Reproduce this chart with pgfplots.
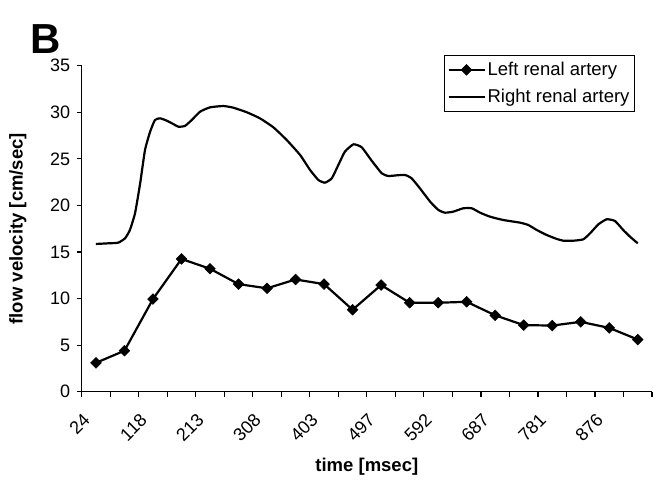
\documentclass[border=0pt]{standalone}
\usepackage{fontspec}
\setmainfont{Liberation Sans}
\usepackage{pgfplots}
\pgfplotsset{compat=1.18}
\usepackage{pgfplotstable}

% left renal artery, one value per sample (index 0..19)
\pgfplotstableread{
x y
0 3.1
1 4.4
2 9.95
3 14.25
4 13.2
5 11.55
6 11.1
7 12.05
8 11.55
9 8.8
10 11.45
11 9.55
12 9.55
13 9.65
14 8.2
15 7.15
16 7.1
17 7.5
18 6.85
19 5.6
}\lefttab

% right renal artery, traced curve
\pgfplotstableread{
x y
0.00 15.86
0.43 15.93
0.78 16.00
1.02 16.47
1.19 17.36
1.37 19.15
1.55 22.37
1.72 25.95
1.90 27.92
2.07 29.17
2.25 29.35
2.48 29.10
2.71 28.74
2.89 28.45
3.12 28.53
3.36 29.17
3.65 30.06
4.00 30.53
4.47 30.67
4.82 30.49
5.29 30.00
5.75 29.35
6.22 28.39
6.69 27.02
7.16 25.41
7.51 23.80
7.80 22.73
8.03 22.44
8.27 22.91
8.50 24.34
8.73 25.77
9.03 26.56
9.32 26.24
9.65 24.88
10.02 23.45
10.25 23.16
10.55 23.23
10.84 23.27
11.07 22.91
11.36 21.84
11.72 20.40
12.01 19.51
12.24 19.22
12.53 19.33
12.88 19.69
13.18 19.69
13.47 19.22
13.82 18.79
14.29 18.43
14.87 18.15
15.16 17.90
15.46 17.36
15.81 16.82
16.16 16.40
16.39 16.21
16.74 16.21
17.09 16.36
17.33 17.01
17.62 17.97
17.91 18.51
18.20 18.33
18.49 17.36
18.73 16.64
19.00 15.93
}\righttab

\begin{document}
\begin{tikzpicture}
\useasboundingbox (0,0) rectangle (663pt,479pt);
\node[anchor=base west, font=\bfseries\fontsize{42}{42}\selectfont] at (27pt,425pt) {B};
\begin{axis}[
    at={(81.7pt,87.3pt)},
    scale only axis,
    width=570.3pt,
    height=326pt,
    xmin=-0.5, xmax=19.5,
    ymin=0, ymax=35,
    axis lines=left,
    axis line style={-, line width=1.2pt},
    tick style={black, line width=1.2pt},
    tick align=outside,
    major tick length=5pt,
    minor tick length=5pt,
    xtick={-0.5,1.5,3.5,5.5,7.5,9.5,11.5,13.5,15.5,17.5},
    xticklabels={24,118,213,308,403,497,592,687,781,876},
    minor xtick={0.5,2.5,4.5,6.5,8.5,10.5,12.5,14.5,16.5,18.5,19.5},
    ytick={0,5,...,35},
    /pgf/number format/assume math mode=true,
    tick label style={font=\fontsize{18}{20}\selectfont},
    xticklabel style={rotate=45, anchor=east, inner sep=1pt, xshift=-10pt, yshift=-18pt},
    yticklabel style={xshift=-3pt},
    xlabel={\bfseries time [msec]},
    ylabel={\bfseries flow velocity [cm/sec]},
    label style={font=\fontsize{18.5}{20}\selectfont},
    xlabel style={at={(axis description cs:0.5,-0.231)}, anchor=center},
    ylabel style={at={(axis description cs:-0.112,0.5)}, anchor=center},
    legend style={
        at={(0.970,1.033)}, anchor=north east,
        draw=black, line width=0.8pt,
        font=\fontsize{18.5}{20}\selectfont,
        inner xsep=3pt, inner ysep=5pt,
        row sep=8pt,
    },
    legend cell align=left,
    legend image code/.code={
        \draw[mark repeat=2, mark phase=2, #1]
            plot coordinates {(0pt,0pt) (18pt,0pt) (36pt,0pt)};
    },
    clip=false,
]
\addplot[black, line width=2.2pt, mark=square*, mark size=3.8pt,
    mark options={rotate=45, solid, line width=0.5pt}]
    table[x=x, y=y] {\lefttab};
\addlegendentry{Left renal artery}
\addplot[black, line width=2.2pt, smooth, tension=0.3, line join=round]
    table[x=x, y=y] {\righttab};
\addlegendentry{Right renal artery}
\end{axis}
\end{tikzpicture}
\end{document}
